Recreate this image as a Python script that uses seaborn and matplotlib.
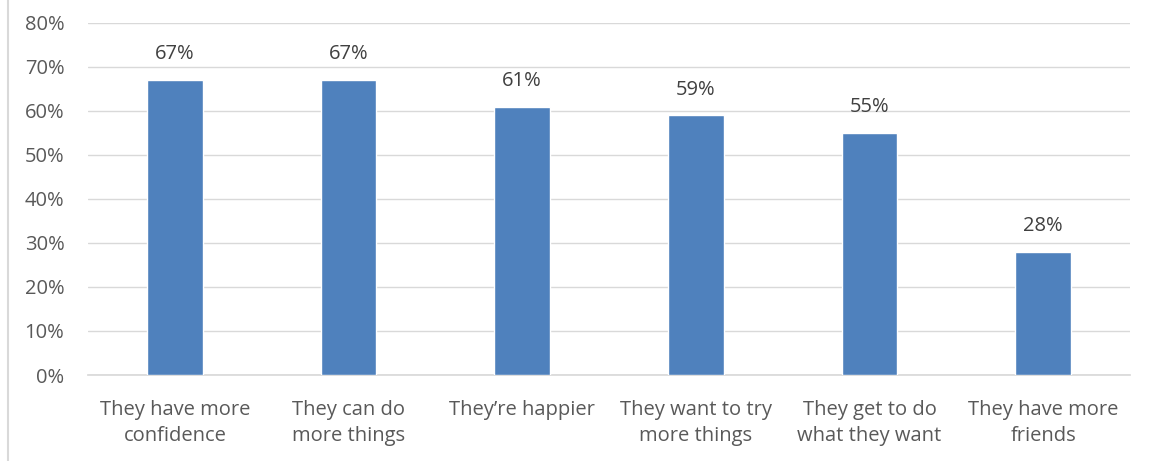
import matplotlib
matplotlib.use("Agg")
import matplotlib.pyplot as plt
import seaborn as sns
import pandas as pd
from matplotlib.lines import Line2D

categories = ["They have more\nconfidence", "They can do\nmore things", "They\u2019re happier",
              "They want to try\nmore things", "They get to do\nwhat they want", "They have more\nfriends"]
values = [67, 67, 61, 59, 55, 28]
yticks = [0, 10, 20, 30, 40, 50, 60, 70, 80]

sns.set_theme(style="white")
plt.rcParams['font.family'] = ['Open Sans', 'DejaVu Sans']

df = pd.DataFrame({"cat": categories, "val": values})
fig = plt.figure(figsize=(11.54, 4.61), dpi=100)
ax = fig.add_axes([88/1154, 1-375/461, (1130-88)/1154, (375-23)/461])
sns.barplot(data=df, x="cat", y="val", color="#4F81BD", saturation=1, width=0.32, ax=ax, zorder=3)
ax.set_ylim(0, 80)
ax.set_xlim(-0.5, 5.5)
ax.set_yticks(yticks)
ax.set_yticklabels([f"{t}%" for t in yticks])
ax.grid(axis="y", color="#D9D9D9", linewidth=1, zorder=0)
for s in ["top", "right", "left"]:
    ax.spines[s].set_visible(False)
ax.spines["bottom"].set_color("#D9D9D9")
ax.tick_params(axis="both", length=0, labelsize=14.5, colors="#595959")
ax.tick_params(axis="y", pad=17)
ax.tick_params(axis="x", pad=18)
for lbl in ax.get_xticklabels():
    lbl.set_linespacing(1.4)
ax.set_xlabel("")
ax.set_ylabel("")
for i, v in enumerate(values):
    ax.text(i, v + 3.6, f"{v}%", ha="center", va="bottom", fontsize=14.5, color="#404040")
fig.add_artist(Line2D([7.5/1154, 7.5/1154], [0, 1], color="#D9D9D9", linewidth=1.5))
fig.savefig("out.png", dpi=100, facecolor="white")
